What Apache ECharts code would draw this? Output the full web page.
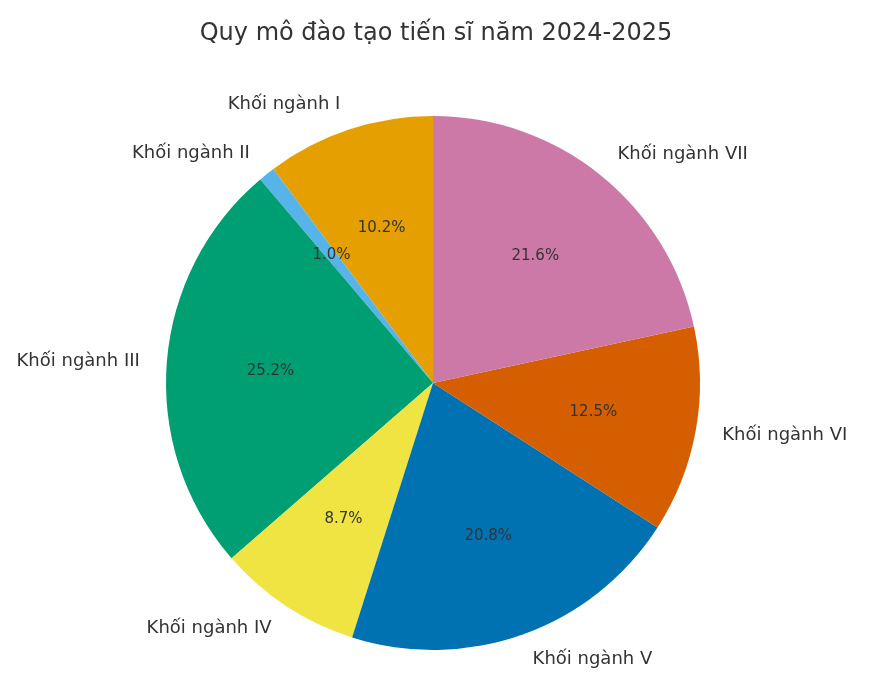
<!DOCTYPE html>
<html><head><meta charset="utf-8">
<script src="https://cdn.jsdelivr.net/npm/echarts@6/dist/echarts.min.js"></script>
<style>html,body{margin:0;background:#fff}#c{width:872px;height:686px}</style>
</head><body><div id="c"></div>
<script>
const categories = ['Khối ngành I','Khối ngành II','Khối ngành III','Khối ngành IV','Khối ngành V','Khối ngành VI','Khối ngành VII'];
const values = [10.2,1.0,25.2,8.7,20.8,12.5,21.6];
const colors = ['#E69F00','#56B4E9','#009E73','#F0E442','#0072B2','#D55E00','#CC79A7'];
const data = categories.map((n,i)=>({name:n,value:values[i],itemStyle:{color:colors[i]}}));
const font = '"DejaVu Sans", sans-serif';
const common = {type:'pie',center:[433,383],startAngle:90,clockwise:false,silent:true,avoidLabelOverlap:false};
const chart = echarts.init(document.getElementById('c'));
chart.setOption({
  animation:false,
  title:{text:'Quy mô đào tạo tiến sĩ năm 2024-2025',left:'center',top:17,textStyle:{fontFamily:font,fontSize:24,fontWeight:'normal',color:'#333'}},
  series:[
    Object.assign({},common,{radius:[0,267],data:data,
      label:{show:true,position:'outside',formatter:'{b}',fontFamily:font,fontSize:18,color:'#333',distanceToLabelLine:0},
      labelLine:{show:false,length:27,length2:0}}),
    Object.assign({},common,{radius:[150,170],data:data.map(d=>({name:d.name,value:d.value,itemStyle:{color:'transparent'}})),
      labelLine:{show:false},
      label:{show:true,position:'inside',formatter:p=>p.value.toFixed(1)+'%',fontFamily:font,fontSize:15,color:'#333'}})
  ]
});
</script></body></html>
